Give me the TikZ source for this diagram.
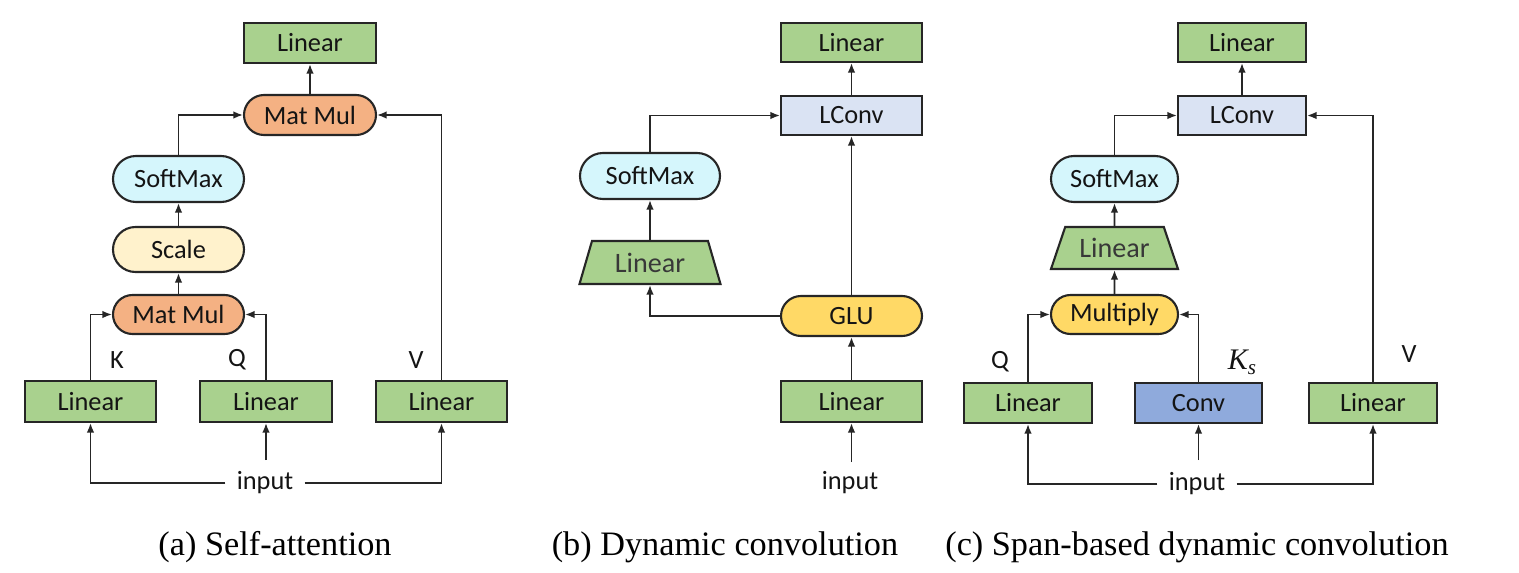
\documentclass[tikz,border=0pt]{standalone}
\usepackage{fontspec}
\setmainfont{Liberation Serif}
\newfontfamily\calib{Carlito}
\usetikzlibrary{arrows.meta,shapes.misc,shapes.geometric}
\definecolor{cgreen}{HTML}{A9D18E}
\definecolor{corange}{HTML}{F4B183}
\definecolor{ccyan}{HTML}{D5F6FC}
\definecolor{cscale}{HTML}{FFF2CC}
\definecolor{clconv}{HTML}{DAE3F3}
\definecolor{cgold}{HTML}{FFD966}
\definecolor{cconv}{HTML}{8FAADC}
\definecolor{cline}{HTML}{262626}
\begin{document}
\begin{tikzpicture}[x=0.02cm,y=-0.02cm,
  blk/.style={draw=cline, line width=1.2pt, inner sep=0pt, text=black!92,
    font=\calib\fontsize{15}{17}\selectfont},
  rbox/.style={blk, rectangle},
  pill/.style={blk, rounded rectangle},
  trap/.style 2 args={blk, trapezium, trapezium stretches body,
    trapezium left angle=#1, trapezium right angle=#1, fill=cgreen,
    text=black!78, font=\calib\fontsize{16}{18}\selectfont, minimum height=#2*0.02cm},
  sz/.style 2 args={minimum width=#1*0.02cm, minimum height=#2*0.02cm},
  arr/.style={-{Latex[length=0.19cm,width=0.15cm]}, line width=0.95pt, draw=cline},
  lab/.style={font=\calib\fontsize{15}{17}\selectfont, text=black!92},
  inp/.style={lab, inner xsep=0.22cm},
  capt/.style={font=\fontsize{19.5}{22}\selectfont}]
\useasboundingbox (0,0) rectangle (1519,572);

% ---------- (a) ----------
\node[rbox,sz={132}{40},fill=cgreen] (aLout) at (310,43) {Linear};
\node[pill,sz={132}{40},fill=corange] (aMM2) at (310,115) {Mat Mul};
\node[pill,sz={131}{46},fill=ccyan] (aSM) at (178.5,179) {SoftMax};
\node[pill,sz={131}{45},fill=cscale] (aSc) at (178.5,249.5) {Scale};
\node[pill,sz={131}{39},fill=corange] (aMM1) at (178.5,314.5) {Mat Mul};
\node[rbox,sz={131}{41},fill=cgreen] (aK) at (90.5,401.5) {Linear};
\node[rbox,sz={132}{41},fill=cgreen] (aQ) at (266,401.5) {Linear};
\node[rbox,sz={131}{41},fill=cgreen] (aV) at (441.5,401.5) {Linear};
\node[lab] (aKl) at (117,360) {K};
\node[lab] (aQl) at (237,360) {Q};
\node[lab] (aVl) at (416,360) {V};
\node[inp] (ain) at (265,483) {input};
\coordinate (aQs) at (266,460);
\draw[arr] (aMM2.north) -- (aLout.south);
\draw[arr] (aSM.north) |- (aMM2.west);
\draw[arr] (aV.north) |- (aMM2.east);
\draw[arr] (aSc.north) -- (aSM.south);
\draw[arr] (aMM1.north) -- (aSc.south);
\draw[arr] (aK.north) |- (aMM1.west);
\draw[arr] (aQ.north) |- (aMM1.east);
\draw[arr] (ain.west) -| (aK.south);
\draw[arr] (ain.east) -| (aV.south);
\draw[arr] (aQs) -- (aQ.south);
\node[capt] (capa) at (275,547) {(a) Self-attention};

% ---------- (b) ----------
\node[rbox,sz={141}{39},fill=cgreen] (bLout) at (851.5,42.5) {Linear};
\node[rbox,sz={141}{39},fill=clconv] (bLC) at (851.5,115.5) {LConv};
\node[pill,sz={140}{46},fill=ccyan] (bSM) at (650,176) {SoftMax};
\node[trap={57.4}{43},minimum width=141*0.02cm] (bLT) at (650,262.5) {Linear};
\node[pill,sz={141}{40},fill=cgold] (bGLU) at (851.5,316) {GLU};
\node[rbox,sz={141}{41},fill=cgreen] (bL) at (851.5,401.5) {Linear};
\node[lab] (bin) at (850,483) {input};
\coordinate (bs) at (851.5,462);
\draw[arr] (bs) -- (bL.south);
\draw[arr] (bL.north) -- (bGLU.south);
\draw[arr] (bGLU.north) -- (bLC.south);
\draw[arr] (bLC.north) -- (bLout.south);
\draw[arr] (bGLU.west) -| (bLT.south);
\draw[arr] (bLT.north) -- (bSM.south);
\draw[arr] (bSM.north) |- (bLC.west);
\node[capt] (capb) at (725,547) {(b) Dynamic convolution};

% ---------- (c) ----------
\node[rbox,sz={128}{39},fill=cgreen] (cLout) at (1242,42.5) {Linear};
\node[rbox,sz={128}{39},fill=clconv] (cLC) at (1242,115.5) {LConv};
\node[pill,sz={127}{46},fill=ccyan] (cSM) at (1114.5,179) {SoftMax};
\node[trap={54}{42},minimum width=127*0.02cm] (cLT) at (1114.5,248) {Linear};
\node[pill,sz={127}{39},fill=cgold] (cMul) at (1114.5,314.5) {Multiply};
\node[rbox,sz={128}{40},fill=cgreen] (cQ) at (1028,403) {Linear};
\node[rbox,sz={127}{40},fill=cconv] (cConv) at (1198.5,403) {Conv};
\node[rbox,sz={128}{40},fill=cgreen] (cV) at (1373,403) {Linear};
\node[lab] (cQl) at (1000,362) {Q};
\node[lab,font=\fontsize{17}{19}\selectfont\itshape] (cKl) at (1242,362) {K\raisebox{-0.35ex}{\fontsize{12}{14}\selectfont s}};
\node[lab] (cVl) at (1409,354) {V};
\node[inp] (cin) at (1197,484) {input};
\coordinate (cs) at (1198.5,460);
\draw[arr] (cin.west) -| (cQ.south);
\draw[arr] (cin.east) -| (cV.south);
\draw[arr] (cs) -- (cConv.south);
\draw[arr] (cQ.north) |- (cMul.west);
\draw[arr] (cConv.north) |- (cMul.east);
\draw[arr] (cMul.north) -- (cLT.south);
\draw[arr] (cLT.north) -- (cSM.south);
\draw[arr] (cSM.north) |- (cLC.west);
\draw[arr] (cV.north) |- (cLC.east);
\draw[arr] (cLC.north) -- (cLout.south);
\node[capt] (capc) at (1197,547) {(c) Span-based dynamic convolution};
\end{tikzpicture}
\end{document}
